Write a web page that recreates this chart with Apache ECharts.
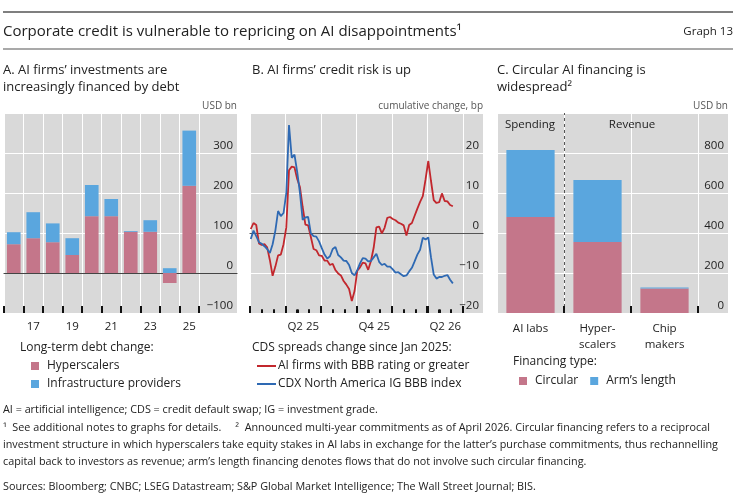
<!DOCTYPE html>
<html>
<head>
<meta charset="utf-8">
<title>Graph 13</title>
<script src="https://cdn.jsdelivr.net/npm/echarts@6/dist/echarts.min.js"></script>
<style>
html, body { margin: 0; padding: 0; background: #fff; }
#chart { width: 736px; height: 496px; }
</style>
</head>
<body>
<div id="chart"></div>
<script>
// A. long-term debt change, USD bn
const years = ['2016', '2017', '2018', '2019', '2020', '2021', '2022', '2023', '2024', '2025'];
const hyperscalers = [72, 87, 77, 45, 142, 142, 103, 103, -25, 218];
const infraProviders = [30, 65, 47, 42, 78, 43, 2, 29, 12, 138];

// B. CDS spreads, cumulative change since Jan 2025 (bp), weekly readings from 3 Jan 2025
const cdsStart = Date.UTC(2025, 0, 3);
const aiFirmsBBB = [
  1.0, 2.5, 2.0, -2.6, -3.0, -2.8, -3.6, -6.8, -10.7, -8.4,
  -5.6, -5.4, -2.8, 1.4, 15.7, 16.6, 16.4, 13.5, 11.5, 6.5,
  2.1, 1.9, -1.0, -4.0, -4.3, -5.6, -5.7, -6.9, -6.9, -8.0,
  -7.7, -9.3, -10.1, -10.6, -12.0, -12.9, -14.0, -17.0, -14.5, -9.4,
  -8.6, -7.4, -7.6, -9.2, -7.0, -3.7, 1.4, 1.6, -0.1, 1.3,
  3.8, 4.0, 3.5, 3.2, 2.6, 2.3, 1.9, -0.6, 2.0, 2.5,
  4.3, 6.1, 7.8, 9.2, 13.4, 18.0, 13.0, 8.2, 7.5, 7.7,
  9.9, 8.0, 7.9, 7.0, 6.7
];
const cdxIgBBB = [
  -1.5, 0.6, -0.8, -2.3, -2.7, -3.3, -4.0, -5.0, -2.8, 0.6,
  5.5, 4.2, 5.0, 10.0, 27.0, 18.8, 19.6, 15.3, 10.1, 3.3,
  3.9, 4.0, -0.1, -0.8, -0.9, -2.1, -3.8, -5.4, -6.4, -5.8,
  -4.0, -3.5, -5.5, -6.1, -6.9, -7.0, -8.0, -10.0, -10.6, -9.3,
  -7.6, -6.3, -6.4, -7.1, -7.0, -6.1, -5.2, -7.2, -8.0, -7.7,
  -8.4, -8.4, -9.1, -9.9, -9.8, -10.3, -10.8, -10.6, -9.6, -8.7,
  -7.1, -5.4, -4.2, -1.2, -1.6, -1.1, -6.1, -10.4, -11.4, -11.0,
  -11.0, -10.7, -10.5, -11.7, -12.6
];
const months = ['Jan 25', 'Feb 25', 'Mar 25', 'Apr 25', 'May 25', 'Jun 25', 'Jul 25', 'Aug 25', 'Sep 25',
  'Oct 25', 'Nov 25', 'Dec 25', 'Jan 26', 'Feb 26', 'Mar 26', 'Apr 26', 'May 26', 'Jun 26'];
const quarters = ['Q1 25', 'Q2 25', 'Q3 25', 'Q4 25', 'Q1 26', 'Q2 26'];

// C. announced multi-year commitments, USD bn
const finCategories = ['AI labs', 'Hyper-\nscalers', 'Chip\nmakers'];
const circular = [480, 355, 122];
const armsLength = [335, 310, 6];
const spendingRevenueSplit = 1;

const week = 7 * 24 * 3600 * 1000;
const cdsDates = aiFirmsBBB.map((v, i) => cdsStart + i * week);

const FONT = '"Open Sans", "Noto Sans", sans-serif';
const BG = '#d9d9d9';
const PINK = '#c4768a';
const BLUE = '#5aa6de';
const RED = '#c2272d';
const NAVY = '#2e69b3';
const TXT = '#222';
const TICK = '#111';

const minus = v => String(v).replace('-', '\u2212');

function panelGrid(left, width) {
  return { left: left, top: 113, width: width, height: 200, show: true, backgroundColor: BG, borderWidth: 0 };
}
const whiteSplit = { show: true, interval: 0, lineStyle: { color: '#fff', width: 1 } };
const zeroLine = color => ({ show: true, onZero: true, lineStyle: { color: color, width: 1.2 } });
const noLine = { show: false, onZero: false };
const insideTick = len => ({ show: true, inside: true, length: len, interval: 0, lineStyle: { color: TICK, width: 2 } });
function dataY(grid, min, max, step) {
  return { type: 'value', gridIndex: grid, min: min, max: max, interval: step,
    axisLine: { show: false }, axisTick: { show: false }, axisLabel: { show: false },
    splitLine: whiteSplit };
}
function labelY(grid, min, max, step) {
  return { type: 'value', gridIndex: grid, min: min, max: max, interval: step, position: 'right',
    axisLine: { show: false }, axisTick: { show: false }, splitLine: whiteSplit,
    axisLabel: { inside: true, margin: 4, align: 'right', verticalAlign: 'bottom', padding: [0, 0, 1, 0],
      fontFamily: FONT, fontSize: 11.5, color: TXT,
      formatter: v => (v === max ? '' : minus(v)) } };
}
function blankX(grid, line) {
  return { type: 'category', gridIndex: grid, data: [''], position: 'bottom',
    axisLine: line ? zeroLine(line) : { show: false }, axisTick: { show: false },
    axisLabel: { show: false }, splitLine: { show: false } };
}
const xLabel = { fontFamily: FONT, fontSize: 11.5, color: TXT, margin: 8 };

function txt(x, y, text, size, opts) {
  return Object.assign({ type: 'text', x: x, y: y, silent: true, z: 10,
    style: Object.assign({ text: text, font: size + 'px ' + FONT, fill: TXT, verticalAlign: 'middle', align: 'left' },
      opts || {}) });
}

const texts = [
  { type: 'line', silent: true, shape: { x1: 3, y1: 12, x2: 733, y2: 12 }, style: { stroke: '#555', lineWidth: 1.5 } },
  { type: 'line', silent: true, shape: { x1: 3, y1: 49, x2: 733, y2: 49 }, style: { stroke: '#555', lineWidth: 1.2 } },
  txt(3, 32, 'Corporate credit is vulnerable to repricing on AI disappointments\u00b9', 15),
  txt(733, 32, 'Graph 13', 11.5, { align: 'right' }),

  txt(3, 70, 'A. AI firms\u2019 investments are', 13),
  txt(3, 87, 'increasingly financed by debt', 13),
  txt(237, 106, 'USD bn', 10, { align: 'right', fill: '#555' }),
  txt(20, 348, 'Long-term debt change:', 12),

  txt(252, 70, 'B. AI firms\u2019 credit risk is up', 13),
  txt(483, 106, 'cumulative change, bp', 10, { align: 'right', fill: '#555' }),
  txt(252, 348, 'CDS spreads change since Jan 2025:', 12),

  txt(497, 70, 'C. Circular AI financing is', 13),
  txt(497, 87, 'widespread\u00b2', 13),
  txt(728, 106, 'USD bn', 10, { align: 'right', fill: '#555' }),
  txt(530, 125, 'Spending', 11.5, { align: 'center' }),
  txt(632, 125, 'Revenue', 11.5, { align: 'center' }),
  txt(513, 362, 'Financing type:', 12),

  txt(3, 410, 'AI = artificial intelligence; CDS = credit default swap; IG = investment grade.', 10.8),
  txt(3, 428, '\u00b9  See additional notes to graphs for details.     \u00b2  Announced multi-year commitments as of April 2026. Circular financing refers to a reciprocal', 10.8),
  txt(3, 445, 'investment structure in which hyperscalers take equity stakes in AI labs in exchange for the latter\u2019s purchase commitments, thus rechannelling', 10.8),
  txt(3, 462, 'capital back to investors as revenue; arm\u2019s length financing denotes flows that do not involve such circular financing.', 10.8),
  txt(3, 487, 'Sources: Bloomberg; CNBC; LSEG Datastream; S&P Global Market Intelligence; The Wall Street Journal; BIS.', 10.8)
];

const chart = echarts.init(document.getElementById('chart'), null, { renderer: 'canvas' });

chart.setOption({
  animation: false,
  textStyle: { fontFamily: FONT },
  grid: [
    panelGrid(4, 195), panelGrid(199, 38),
    panelGrid(250, 213), panelGrid(463, 20),
    panelGrid(497, 201), panelGrid(698, 30)
  ],
  xAxis: [
    // A
    { type: 'category', gridIndex: 0, data: years, position: 'bottom',
      axisLine: noLine, axisTick: insideTick(7), splitLine: whiteSplit,
      axisLabel: Object.assign({ interval: i => i % 2 === 1, formatter: v => v.slice(2) }, xLabel) },
    { type: 'category', gridIndex: 0, data: years, position: 'bottom',
      axisLine: zeroLine('#444'), axisTick: { show: false }, axisLabel: { show: false }, splitLine: { show: false } },
    blankX(1, '#444'),
    // B
    { type: 'time', gridIndex: 2, min: Date.UTC(2025, 0, 1), max: Date.UTC(2026, 6, 1), position: 'bottom',
      axisLine: zeroLine('#555'), axisTick: { show: false }, axisLabel: { show: false }, splitLine: { show: false } },
    { type: 'category', gridIndex: 2, data: months, position: 'bottom',
      axisLine: noLine, axisTick: insideTick(3.5), axisLabel: { show: false }, splitLine: { show: false } },
    { type: 'category', gridIndex: 2, data: quarters, position: 'bottom',
      axisLine: noLine, axisTick: insideTick(7), splitLine: whiteSplit,
      axisLabel: Object.assign({ interval: i => i % 2 === 1 }, xLabel) },
    blankX(3, '#555'),
    // C
    { type: 'category', gridIndex: 4, data: finCategories, position: 'bottom',
      axisLine: noLine, axisTick: { show: false }, splitLine: whiteSplit,
      axisLabel: Object.assign({ interval: 0, lineHeight: 16 }, xLabel) },
    { type: 'value', gridIndex: 4, min: 0, max: finCategories.length, show: false },
    blankX(5, null)
  ],
  yAxis: [
    dataY(0, -100, 400, 100), labelY(1, -100, 400, 100),
    dataY(2, -20, 30, 10), labelY(3, -20, 30, 10),
    dataY(4, 0, 1000, 200), labelY(5, 0, 1000, 200)
  ],
  legend: [
    { data: ['Hyperscalers', 'Infrastructure providers'], orient: 'vertical', left: 26, top: 354,
      icon: 'rect', itemWidth: 8, itemHeight: 8, itemGap: 4,
      textStyle: { fontFamily: FONT, fontSize: 12, color: TXT, lineHeight: 14, padding: [0, 0, 0, 3] } },
    { data: ['AI firms with BBB rating or greater', 'CDX North America IG BBB index'], orient: 'vertical', left: 252, top: 354,
      icon: 'rect', itemWidth: 19, itemHeight: 2, itemGap: 4,
      textStyle: { fontFamily: FONT, fontSize: 12, color: TXT, lineHeight: 14, padding: [0, 0, 0, -3] } },
    { data: ['Circular', 'Arm\u2019s length'], orient: 'horizontal', left: 514, top: 369,
      icon: 'rect', itemWidth: 8, itemHeight: 8, itemGap: 12,
      textStyle: { fontFamily: FONT, fontSize: 12, color: TXT, lineHeight: 14, padding: [0, 0, 0, 3] } }
  ],
  series: [
    { name: 'Hyperscalers', type: 'bar', stack: 'debt', xAxisIndex: 0, yAxisIndex: 0,
      data: hyperscalers, barWidth: '70%', itemStyle: { color: PINK } },
    { name: 'Infrastructure providers', type: 'bar', stack: 'debt', xAxisIndex: 0, yAxisIndex: 0,
      data: infraProviders, barWidth: '70%', itemStyle: { color: BLUE } },
    { name: 'AI firms with BBB rating or greater', type: 'line', xAxisIndex: 3, yAxisIndex: 2,
      data: cdsDates.map((d, i) => [d, aiFirmsBBB[i]]), showSymbol: false, color: RED,
      lineStyle: { color: RED, width: 1.8 } },
    { name: 'CDX North America IG BBB index', type: 'line', xAxisIndex: 3, yAxisIndex: 2,
      data: cdsDates.map((d, i) => [d, cdxIgBBB[i]]), showSymbol: false, color: NAVY,
      lineStyle: { color: NAVY, width: 1.8 } },
    { name: 'Circular', type: 'bar', stack: 'fin', xAxisIndex: 7, yAxisIndex: 4,
      data: circular, barWidth: '72%', itemStyle: { color: PINK } },
    { name: 'Arm\u2019s length', type: 'bar', stack: 'fin', xAxisIndex: 7, yAxisIndex: 4,
      data: armsLength, barWidth: '72%', itemStyle: { color: BLUE } },
    { name: 'divider', type: 'line', xAxisIndex: 8, yAxisIndex: 4, data: [],
      markLine: { silent: true, symbol: 'none', label: { show: false },
        lineStyle: { color: '#555', type: [3, 3], width: 1 },
        data: [{ xAxis: spendingRevenueSplit }] } }
  ],
  graphic: texts
});

// inside ticks at category boundaries, placed through the axes' own scales
function boundaryTicks(xi, yi, cats, from, to, bottom, lenOf) {
  const finder = { xAxisIndex: xi, yAxisIndex: yi };
  const c0 = chart.convertToPixel(finder, [0, bottom]);
  const c1 = chart.convertToPixel(finder, [1, bottom]);
  if (!c0 || !c1) return [];
  const band = c1[0] - c0[0];
  const out = [];
  for (let b = from; b <= to; b++) {
    const p = chart.convertToPixel(finder, [Math.min(b, cats.length - 1), bottom]);
    const x = Math.round(p[0] + (b < cats.length ? -band / 2 : band / 2));
    out.push({ type: 'line', silent: true, z: 100,
      shape: { x1: x, y1: p[1], x2: x, y2: p[1] - lenOf(b) },
      style: { stroke: TICK, lineWidth: 2 } });
  }
  return out;
}

let ticks = [];
try {
  ticks = [].concat(
    boundaryTicks(0, 0, years, 0, years.length, -100, () => 7),
    boundaryTicks(4, 2, months, 0, months.length - 1, -20, b => (b % 3 === 0 ? 7 : 3.5)),
    boundaryTicks(7, 4, finCategories, 1, finCategories.length, 0, () => 7)
  );
} catch (e) {
  ticks = [];
}
chart.setOption({ graphic: texts.concat(ticks) });
</script>
</body>
</html>
